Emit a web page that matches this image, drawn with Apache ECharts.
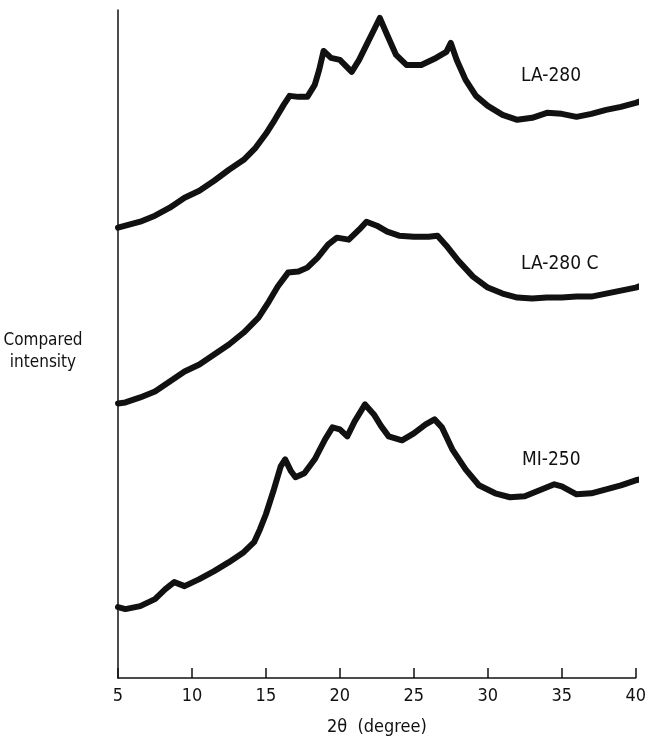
<!DOCTYPE html>
<html>
<head>
<meta charset="utf-8">
<title>Compared intensity</title>
<script src="https://cdn.jsdelivr.net/npm/echarts@6/dist/echarts.min.js"></script>
<style>
  html, body { margin: 0; padding: 0; background: #fff; }
  #chart { width: 649px; height: 741px; }
</style>
</head>
<body>
<div id="chart"></div>
<script>
// 2θ positions (degree) and relative intensities (arbitrary units)
var xLA280 = [5.0,5.5,6.5,7.5,8.5,9.5,10.5,11.5,12.5,13.5,14.3,15.0,15.6,16.2,16.6,17.2,17.8,18.3,18.6,18.9,19.4,20.0,20.8,21.3,21.8,22.3,22.7,23.2,23.8,24.5,25.5,26.5,27.2,27.5,27.9,28.5,29.2,30.0,31.0,32.0,33.0,34.0,35.0,36.0,37.0,38.0,39.0,40.0,40.6];
var yLA280 = [451,453,457,463,471,481,488,498,509,519,531,545,559,574,583,582,582,594,609,628,621,619,607,619,634,649,661,644,624,614,614,621,627,636,619,599,583,573,564,559,561,566,565,562,565,569,572,576,579];

var xLA280C = [5.0,5.5,6.5,7.5,8.5,9.5,10.5,11.5,12.5,13.5,14.5,15.2,15.8,16.5,17.2,17.8,18.5,19.2,19.8,20.6,21.3,21.8,22.5,23.2,24.0,25.0,26.0,26.6,27.2,28.0,29.0,30.0,31.0,32.0,33.0,34.0,35.0,36.0,37.0,38.0,39.0,40.0,40.6];
var yLA280C = [275,276,281,287,297,307,314,324,334,346,361,377,392,406,407,411,421,434,441,439,449,457,453,447,443,442,442,443,433,418,402,391,385,381,380,381,381,382,382,385,388,391,394];

var xMI250 = [5.0,5.5,6.5,7.5,8.2,8.8,9.5,10.5,11.5,12.5,13.5,14.2,14.6,15.0,15.5,16.0,16.3,16.7,17.0,17.6,18.3,19.0,19.5,20.0,20.5,21.0,21.7,22.3,22.8,23.3,24.2,25.0,25.8,26.4,26.9,27.6,28.5,29.4,30.5,31.5,32.5,33.5,34.5,35.0,36.0,37.0,38.0,39.0,40.0,40.6];
var yMI250 = [71,69,72,79,89,96,92,99,107,116,126,136,149,164,187,212,219,207,201,205,219,239,251,249,242,257,274,264,252,242,238,245,254,259,251,229,209,193,185,181,182,188,194,192,184,185,189,193,198,200];

var seriesNames = ['LA-280', 'LA-280 C', 'MI-250'];
var xTicks = [5, 10, 15, 20, 25, 30, 35, 40];

function pairs(xs, ys){
    var out = [];
    for (var i = 0; i < xs.length; i++) {
        out.push([xs[i], ys[i]]);
    }
    return out;
}

var font = "'DejaVu Sans Condensed', 'Liberation Sans Narrow', sans-serif";

function traceSeries(name, data){
    return {
        name: name,
        type: 'line',
        data: data,
        showSymbol: false,
        clip: false,
        lineStyle: { color: '#111', width: 6, join: 'round', cap: 'round' },
        emphasis: { disabled: true },
        z: 3
    };
}

var option = {
    animation: false,
    backgroundColor: '#fff',
    grid: { left: 118, right: 12, top: 10, bottom: 62 },
    xAxis: {
        type: 'value',
        min: 5,
        max: 40,
        interval: 5,
        name: '2\u03B8  (degree)',
        nameLocation: 'middle',
        nameGap: 40,
        nameTextStyle: { color: '#111', fontSize: 18, fontFamily: font },
        axisLine: { show: true, onZero: false, lineStyle: { color: '#111', width: 1.5 } },
        axisTick: { show: true, inside: true, length: 10, lineStyle: { color: '#111', width: 1.5 } },
        axisLabel: {
            color: '#111', fontSize: 18, fontFamily: font, margin: 9,
            formatter: function(v){ return xTicks.indexOf(v) >= 0 ? String(v) : ''; }
        },
        splitLine: { show: false }
    },
    yAxis: {
        type: 'value',
        min: 0,
        max: 669,
        axisLine: { show: true, lineStyle: { color: '#111', width: 1.5 } },
        axisTick: { show: false },
        axisLabel: { show: false },
        splitLine: { show: false }
    },
    graphic: [
        { type: 'text', left: 521, top: 67, style: { text: seriesNames[0], fill: '#111', fontSize: 19, fontFamily: font } },
        { type: 'text', left: 521, top: 255, style: { text: seriesNames[1], fill: '#111', fontSize: 19, fontFamily: font } },
        { type: 'text', left: 522, top: 451, style: { text: seriesNames[2], fill: '#111', fontSize: 19, fontFamily: font } },
        { type: 'text', x: 43, y: 330, style: { text: 'Compared\nintensity', fill: '#111', fontSize: 17, fontFamily: font, align: 'center', lineHeight: 22 } }
    ],
    series: [
        traceSeries(seriesNames[0], pairs(xLA280, yLA280)),
        traceSeries(seriesNames[1], pairs(xLA280C, yLA280C)),
        traceSeries(seriesNames[2], pairs(xMI250, yMI250))
    ]
};

var chart = echarts.init(document.getElementById('chart'));
chart.setOption(option);
</script>
</body>
</html>
